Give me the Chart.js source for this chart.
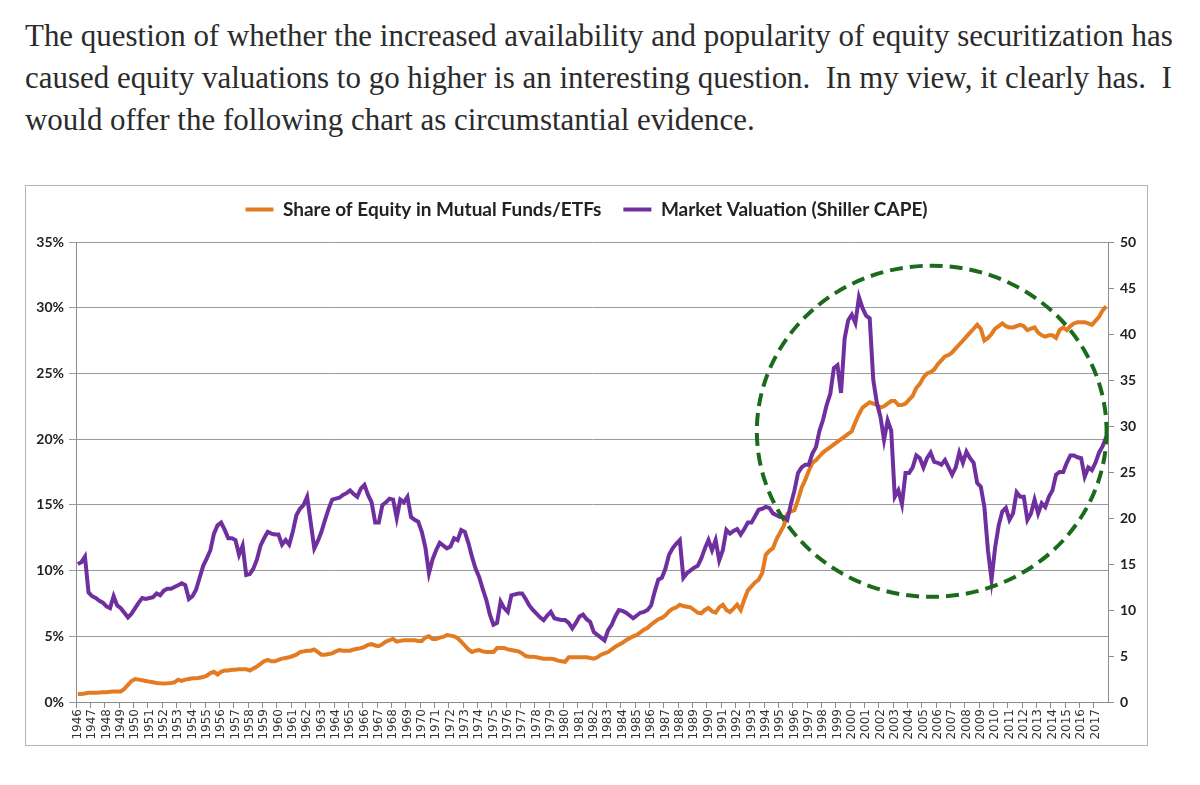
<!DOCTYPE html>
<html>
<head>
<meta charset="utf-8">
<script src="https://cdn.jsdelivr.net/npm/chart.js@4/dist/chart.umd.min.js"></script>
<style>
  html, body { margin: 0; padding: 0; background: #fff; }
  body { width: 1200px; height: 785px; position: relative; overflow: hidden; }
  #intro { position: absolute; left: 25px; top: 15px; margin: 0; color: #2b2b2b;
           font-family: "Liberation Serif", "DejaVu Serif", serif; font-size: 28px; line-height: 42px; }
  #intro span { display: block; white-space: nowrap; }
  #box { position: absolute; left: 25px; top: 185px; width: 1123px; height: 561px;
         border: 1px solid #b4b4b4; box-sizing: border-box; background: #fff; }
  #chart { position: absolute; left: 0; top: 0; }
</style>
</head>
<body>
<p id="intro">
  <span id="l1">The question of whether the increased availability and popularity of equity securitization has</span>
  <span>caused equity valuations to go higher is an interesting question.&nbsp; In my view, it clearly has.&nbsp; I</span>
  <span>would offer the following chart as circumstantial evidence.</span>
</p>
<div id="box"><canvas id="chart" width="1121" height="559"></canvas></div>
<script>
// ---- Data (quarterly, Q1..Q4 per year) ----
const years = [1946,1947,1948,1949,1950,1951,1952,1953,1954,1955,1956,1957,1958,1959,1960,1961,1962,1963,
  1964,1965,1966,1967,1968,1969,1970,1971,1972,1973,1974,1975,1976,1977,1978,1979,1980,1981,1982,1983,
  1984,1985,1986,1987,1988,1989,1990,1991,1992,1993,1994,1995,1996,1997,1998,1999,2000,2001,2002,2003,
  2004,2005,2006,2007,2008,2009,2010,2011,2012,2013,2014,2015,2016,2017];

const seriesNames = ["Share of Equity in Mutual Funds/ETFs", "Market Valuation (Shiller CAPE)"];

// Share of equity in mutual funds / ETFs (%), left axis
const equityShare = [
  0.6,0.6,0.65,0.7,       0.7,0.7,0.72,0.75,     0.75,0.78,0.8,0.8,     0.8,1.0,1.3,1.6,
  1.75,1.7,1.65,1.6,      1.55,1.5,1.45,1.42,    1.4,1.42,1.45,1.5,     1.7,1.6,1.7,1.75,
  1.8,1.8,1.85,1.9,       2.0,2.2,2.3,2.1,       2.3,2.4,2.4,2.45,      2.45,2.5,2.5,2.5,
  2.4,2.55,2.7,2.9,       3.1,3.2,3.1,3.1,       3.2,3.3,3.35,3.4,      3.5,3.6,3.8,3.85,
  3.9,3.9,4.0,3.8,        3.6,3.6,3.65,3.7,      3.85,3.95,3.9,3.9,     3.9,4.0,4.05,4.1,
  4.2,4.35,4.4,4.3,       4.25,4.4,4.6,4.7,      4.8,4.6,4.65,4.7,      4.7,4.7,4.7,4.65,
  4.65,4.9,5.0,4.8,       4.8,4.9,4.95,5.1,      5.05,5.0,4.85,4.6,     4.3,4.0,3.8,3.9,
  3.95,3.85,3.8,3.8,      3.8,4.1,4.1,4.1,       4.0,3.95,3.9,3.85,     3.7,3.5,3.45,3.45,
  3.4,3.35,3.3,3.3,       3.3,3.25,3.15,3.1,     3.05,3.4,3.4,3.4,      3.4,3.4,3.4,3.35,
  3.3,3.4,3.6,3.7,        3.8,4.0,4.2,4.35,      4.5,4.7,4.85,5.0,      5.1,5.3,5.5,5.65,
  5.9,6.1,6.3,6.4,        6.6,6.9,7.1,7.2,       7.4,7.3,7.25,7.2,      7.0,6.8,6.75,7.0,
  7.15,6.9,6.8,7.2,       7.4,7.0,6.85,7.1,      7.4,7.0,7.8,8.5,       8.8,9.1,9.3,9.8,
  11.2,11.5,11.7,12.4,    12.9,13.4,14.3,14.5,   14.6,15.4,16.3,16.9,   17.6,18.2,18.4,18.7,
  19.0,19.2,19.4,19.6,    19.8,20.0,20.2,20.4,   20.6,21.3,21.9,22.4,   22.6,22.8,22.7,22.6,
  22.4,22.5,22.7,22.9,    22.9,22.6,22.6,22.7,   23.0,23.3,23.9,24.2,   24.7,25.0,25.1,25.3,
  25.7,26.0,26.3,26.4,    26.6,26.9,27.2,27.5,   27.8,28.1,28.4,28.7,   28.4,27.5,27.7,28.0,
  28.4,28.6,28.8,28.6,    28.5,28.5,28.6,28.7,   28.6,28.3,28.4,28.5,   28.1,27.9,27.8,27.9,
  27.9,27.7,28.3,28.5,    28.3,28.6,28.8,28.9,   28.9,28.9,28.8,28.7,   29.0,29.3,29.8,30.1
];

// Shiller CAPE, right axis
const cape = [
  15.0,15.2,15.8,11.9,    11.5,11.3,11.0,10.8,   10.4,10.2,11.5,10.5,   10.2,9.7,9.2,9.6,
  10.2,10.8,11.3,11.2,    11.3,11.4,11.8,11.6,   12.1,12.3,12.3,12.5,   12.7,12.9,12.7,11.2,
  11.5,12.2,13.5,14.8,    15.6,16.5,18.3,19.2,   19.5,18.7,17.8,17.8,   17.6,16.0,17.0,13.8,
  13.9,14.5,15.5,17.0,    17.8,18.5,18.3,18.2,   18.2,17.1,17.6,17.1,   18.5,20.3,21.0,21.4,
  22.3,19.5,16.7,17.5,    18.5,19.8,21.0,22.0,   22.1,22.2,22.5,22.7,   23.0,22.6,22.3,23.2,
  23.6,22.5,21.7,19.5,    19.5,21.4,21.7,22.1,   22.0,20.0,22.0,21.7,   22.3,20.1,19.8,19.6,
  18.5,16.8,14.0,15.5,    16.5,17.3,17.0,16.7,   16.9,17.8,17.6,18.7,   18.5,17.3,15.8,14.5,
  13.6,12.3,11.1,9.5,     8.4,8.6,10.9,10.2,     9.8,11.6,11.7,11.8,    11.8,11.2,10.5,10.0,
  9.6,9.2,8.9,9.4,        9.8,9.1,9.0,8.9,       8.9,8.6,8.0,8.6,       9.3,9.5,9.0,8.7,
  7.6,7.3,7.0,6.7,        7.8,8.4,9.3,10.0,      9.9,9.7,9.4,9.1,       9.4,9.7,9.8,10.0,
  10.5,12.0,13.3,13.5,    14.5,16.0,16.7,17.2,   17.6,13.5,14.0,14.3,   14.6,14.8,15.6,16.7,
  17.6,16.5,17.6,15.4,    16.5,18.7,18.3,18.6,   18.8,18.2,18.8,19.5,   19.5,20.2,20.9,21.0,
  21.2,21.1,20.5,20.3,    20.1,20.1,19.8,21.5,   23.0,24.9,25.5,25.8,   25.8,27.0,27.7,29.5,
  30.7,32.3,33.5,36.3,    36.6,33.6,39.5,41.5,   42.1,41.2,44.0,42.8,   42.0,41.7,35.0,32.5,
  31.0,28.5,30.6,29.5,    22.3,23.0,21.5,24.9,   24.9,25.5,26.8,26.5,   25.5,26.5,27.1,26.1,
  26.0,25.8,26.3,25.5,    24.7,25.5,27.1,26.0,   27.2,26.5,26.0,23.8,   23.4,21.2,16.5,13.3,
  16.8,19.2,20.7,21.1,    19.8,20.5,22.8,22.3,   22.3,19.8,20.5,22.0,   20.5,21.6,21.2,22.3,
  23.0,24.7,25.0,25.0,    26.0,26.8,26.8,26.6,   26.5,24.5,25.5,25.2,   26.0,27.1,27.8,28.8
];

const leftTicks = [0,5,10,15,20,25,30,35];
const rightTicks = [0,5,10,15,20,25,30,35,40,45,50];

// highlight ellipse, in data units: centre (year, % on left axis), radii (years, %)
const circleCentre = [2005.7, 20.6];
const circleRadius = [12.2, 12.6];

// ---- fit intro text ----
(function(){
  const l1 = document.getElementById('l1');
  const intro = document.getElementById('intro');
  const w = l1.getBoundingClientRect().width;
  const target = 1148;
  const fs = 28 * target / w;
  intro.style.fontSize = fs.toFixed(2) + 'px';
})();

// ---- build chart ----
const labels = [];
years.forEach(y => { labels.push(String(y), '', '', ''); });

const ellipsePlugin = {
  id: 'ellipse',
  afterDatasetsDraw(chart) {
    const xs = chart.scales.x, ys = chart.scales.y;
    const toIdx = yr => (yr - years[0]) * 4 - 0.5;
    const cx = xs.getPixelForValue(toIdx(circleCentre[0]));
    const cy = ys.getPixelForValue(circleCentre[1]);
    const rx = Math.abs(xs.getPixelForValue(toIdx(circleCentre[0] + circleRadius[0])) - cx);
    const ry = Math.abs(ys.getPixelForValue(circleCentre[1] + circleRadius[1]) - cy);
    const ctx = chart.ctx;
    ctx.save();
    ctx.beginPath();
    ctx.ellipse(cx, cy, rx, ry, 0, 0, Math.PI * 2);
    ctx.setLineDash([13, 7]);
    ctx.lineWidth = 4;
    ctx.strokeStyle = '#1c6b1c';
    ctx.stroke();
    ctx.restore();
  }
};

// legend: keep wide item spacing, but tune its height and vertical placement
const legendSpace = {
  id: 'legendSpace',
  beforeInit(chart) {
    const lg = chart.legend;
    if (!lg) return;
    const fit = lg.fit;
    lg.fit = function() { fit.call(this); this.height += 5; };
  },
  afterLayout(chart) {
    const lg = chart.legend;
    if (!lg) return;
    lg.top -= 8; lg.bottom -= 8;
  }
};

const tickFont = { family: 'Lato', size: 14, weight: 'bold' };

new Chart(document.getElementById('chart'), {
  type: 'line',
  data: {
    labels: labels,
    datasets: [
      { label: seriesNames[0], data: equityShare, yAxisID: 'y', borderColor: '#e27b22',
        backgroundColor: '#e27b22', borderWidth: 4, pointRadius: 0, tension: 0, order: 2 },
      { label: seriesNames[1], data: cape, yAxisID: 'y1', borderColor: '#6f2f9f',
        backgroundColor: '#6f2f9f', borderWidth: 4, pointRadius: 0, tension: 0, order: 1 }
    ]
  },
  options: {
    responsive: false,
    animation: false,
    layout: { padding: { top: 0, left: 0, right: 0, bottom: 0 } },
    plugins: {
      tooltip: { enabled: false },
      legend: {
        position: 'top',
        labels: {
          usePointStyle: true, pointStyle: 'line', pointStyleWidth: 28,
          sort: (a, b) => a.datasetIndex - b.datasetIndex,
          font: { family: 'Lato', size: 19, weight: 'bold' }, color: '#222', padding: 22
        }
      }
    },
    scales: {
      x: {
        type: 'category',
        offset: true,
        afterFit(s) { s.height = 43; },
        border: { color: '#8c8c8c', width: 1 },
        grid: {
          offset: true, drawOnChartArea: false, drawTicks: true, tickLength: 6,
          color: ctx => (ctx.index % 4 === 0 ? '#8c8c8c' : 'rgba(0,0,0,0)')
        },
        ticks: {
          autoSkip: false, maxRotation: 90, minRotation: 90, padding: 1,
          color: '#333', font: { family: 'DejaVu Sans', size: 12 }
        }
      },
      y: {
        position: 'left', min: 0, max: 35,
        afterFit(s) { s.width = 50; },
        afterBuildTicks(s) { s.ticks = leftTicks.map(v => ({ value: v })); },
        border: { color: '#8c8c8c', width: 1 },
        grid: { color: '#9a9a9a', lineWidth: 1, tickLength: 7 },
        ticks: { color: '#222', font: tickFont, padding: 5, callback: v => v + '%' }
      },
      y1: {
        position: 'right', min: 0, max: 50,
        afterFit(s) { s.width = 39; },
        afterBuildTicks(s) { s.ticks = rightTicks.map(v => ({ value: v })); },
        border: { color: '#8c8c8c', width: 1 },
        grid: { drawOnChartArea: false, color: '#8c8c8c', tickLength: 6 },
        ticks: { color: '#222', font: tickFont, padding: 6 }
      }
    }
  },
  plugins: [legendSpace, ellipsePlugin]
});
</script>
</body>
</html>
